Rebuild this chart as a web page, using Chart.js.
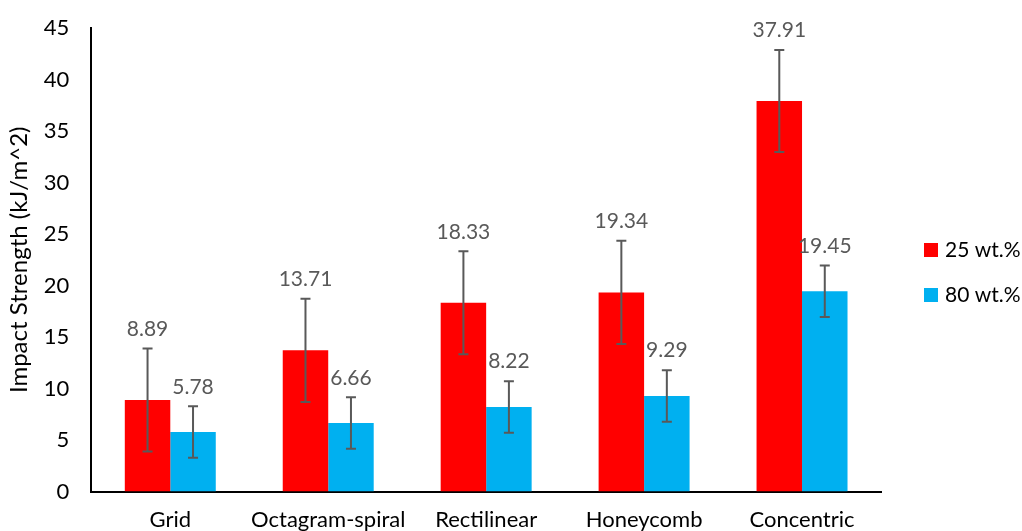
<!DOCTYPE html>
<html lang="en">
<head>
    <meta charset="UTF-8">
    <title>Impact Strength</title>
    <style>
        html, body { margin: 0; padding: 0; background: #fff; }
        .wrap { width: 1022px; height: 531px; }
    </style>
</head>
<body>
<div class="wrap"><canvas id="impactChart" width="1022" height="531"></canvas></div>

<script src="https://cdn.jsdelivr.net/npm/chart.js"></script>
<script>
    const categories = ['Grid', 'Octagram-spiral', 'Rectilinear', 'Honeycomb', 'Concentric'];
    const wt25 = [8.89, 13.71, 18.33, 19.34, 37.91];
    const wt80 = [5.78, 6.66, 8.22, 9.29, 19.45];
    const err25 = [5, 5, 5, 5, 4.95];
    const err80 = [2.5, 2.5, 2.5, 2.5, 2.5];
    const errors = [err25, err80];

    const FONT = 'Lato, "Open Sans", sans-serif';
    const GREY = '#595959';

    // error bars + value labels above them
    const errorBars = {
        id: 'errorBars',
        afterDatasetsDraw(chart) {
            const ctx = chart.ctx;
            const y = chart.scales.y;
            ctx.save();
            chart.data.datasets.forEach((ds, di) => {
                const meta = chart.getDatasetMeta(di);
                meta.data.forEach((bar, i) => {
                    const v = ds.data[i];
                    const e = errors[di][i];
                    const top = y.getPixelForValue(v + e);
                    const bot = y.getPixelForValue(v - e);
                    ctx.strokeStyle = GREY;
                    ctx.lineWidth = 2;
                    ctx.beginPath();
                    ctx.moveTo(bar.x, top); ctx.lineTo(bar.x, bot);
                    ctx.moveTo(bar.x - 5, top); ctx.lineTo(bar.x + 5, top);
                    ctx.moveTo(bar.x - 5, bot); ctx.lineTo(bar.x + 5, bot);
                    ctx.stroke();

                    ctx.fillStyle = GREY;
                    ctx.font = '21px ' + FONT;
                    ctx.textAlign = 'center';
                    ctx.textBaseline = 'bottom';
                    ctx.fillText(v.toFixed(2), bar.x, top - 9);
                });
            });
            ctx.restore();
        }
    };

    // legend to the right of the plot, like the Excel one
    const sideLegend = {
        id: 'sideLegend',
        afterDraw(chart) {
            const ctx = chart.ctx;
            const area = chart.chartArea;
            const x = area.right + 43;
            const y0 = 250;
            ctx.save();
            ctx.font = '21px ' + FONT;
            ctx.textBaseline = 'middle';
            ctx.textAlign = 'left';
            chart.data.datasets.forEach((ds, i) => {
                const cy = y0 + i * 45;
                ctx.fillStyle = ds.backgroundColor;
                ctx.fillRect(x, cy - 7, 14, 14);
                ctx.fillStyle = '#000';
                ctx.fillText(ds.label, x + 21, cy);
            });
            ctx.restore();
        }
    };

    new Chart(document.getElementById('impactChart'), {
        type: 'bar',
        data: {
            labels: categories,
            datasets: [{
                label: '25 wt.%',
                data: wt25,
                backgroundColor: '#FF0000'
            }, {
                label: '80 wt.%',
                data: wt80,
                backgroundColor: '#00B0F0'
            }]
        },
        options: {
            responsive: false,
            animation: false,
            devicePixelRatio: 1,
            layout: { padding: { top: 16, left: 5, right: 141, bottom: -17 } },
            datasets: { bar: { barPercentage: 1, categoryPercentage: 0.576 } },
            plugins: {
                tooltip: { enabled: false },
                legend: { display: false }
            },
            scales: {
                x: {
                    grid: { display: false, drawTicks: false },
                    border: { display: true, color: '#000', width: 2 },
                    ticks: {
                        color: '#000', padding: 15, maxRotation: 0, minRotation: 0, autoSkip: false,
                        font: { family: FONT, size: 22 }
                    }
                },
                y: {
                    min: 0,
                    max: 45,
                    grid: { display: false, drawTicks: false },
                    border: { display: true, color: '#000', width: 2 },
                    ticks: { stepSize: 5, color: '#000', padding: 22, font: { family: FONT, size: 22, lineHeight: 0.55 } },
                    title: {
                        display: true,
                        text: 'Impact Strength (kJ/m^2)',
                        color: '#000',
                        padding: { top: 0, bottom: -12 },
                        font: { family: FONT, size: 24 }
                    }
                }
            }
        },
        plugins: [errorBars, sideLegend]
    });
</script>
</body>
</html>
